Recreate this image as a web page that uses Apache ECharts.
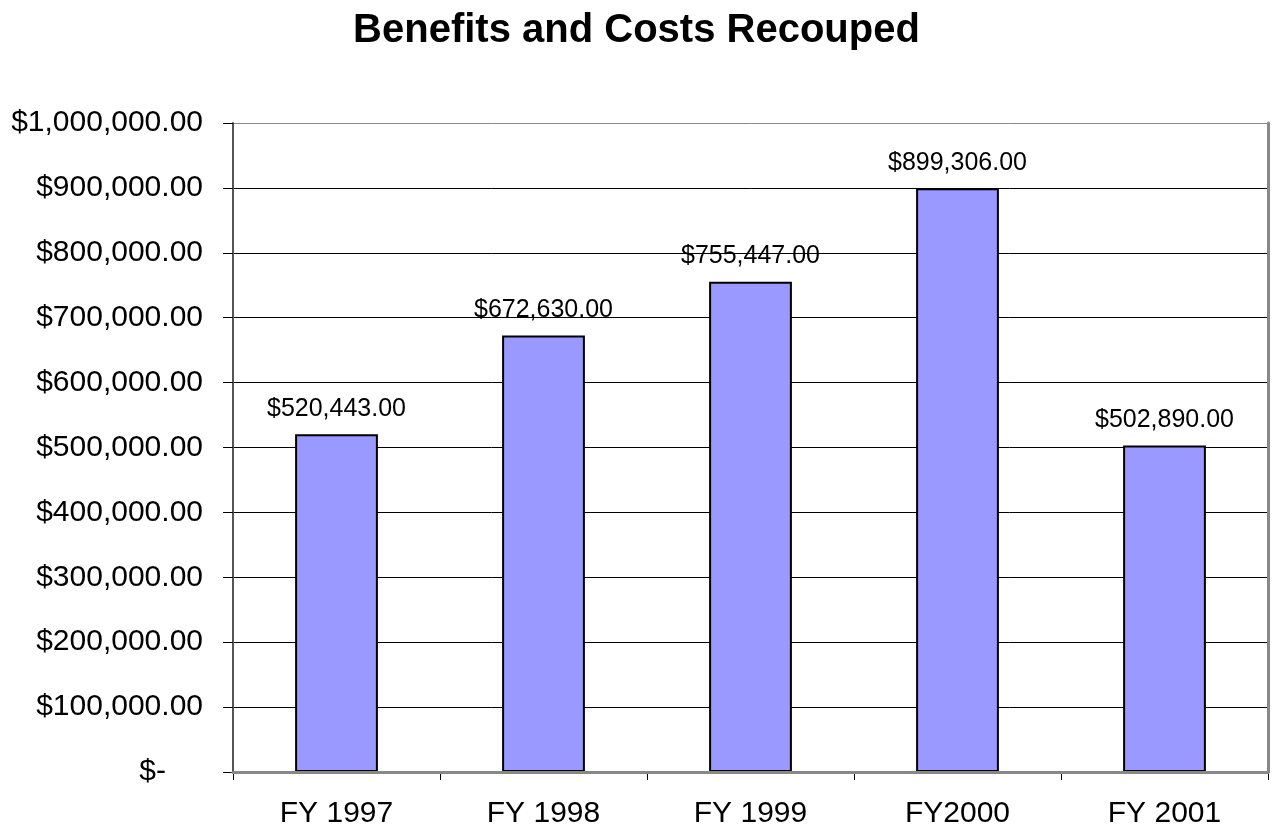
<!DOCTYPE html>
<html><head><meta charset="utf-8">
<script src="https://cdn.jsdelivr.net/npm/echarts@6/dist/echarts.min.js"></script>
<style>html,body{margin:0;padding:0;background:#fff}#c{width:1273px;height:830px}</style>
</head><body><div id="c"></div>
<script>
const categories = ['FY 1997', 'FY 1998', 'FY 1999', 'FY2000', 'FY 2001'];
const values = [520443, 672630, 755447, 899306, 502890];
const title = 'Benefits and Costs Recouped';

function money(v) {
  if (v === 0) return '$-';
  return '$' + v.toLocaleString('en-US', {minimumFractionDigits: 2, maximumFractionDigits: 2});
}
function axisMoney(v) {
  if (v === 0) return '{z|$-}';
  return money(v);
}
const F = 'Liberation Sans, Arial, sans-serif';
const gridColors = ['#000','#000','#000','#000','#000','#000','#000','#000','#000','#000','#888'];
const chart = echarts.init(document.getElementById('c'));
chart.setOption({
  animation: false,
  title: {text: title, left: 'center', top: 6, textStyle: {fontFamily: F, fontSize: 40, fontWeight: 'bold', color: '#000'}},
  grid: {left: 233, right: 5, top: 123, bottom: 58, containLabel: false},
  xAxis: [{
    type: 'category', data: categories,
    axisLine: {lineStyle: {color: '#000', width: 1}},
    axisTick: {show: true, length: 8, lineStyle: {color: '#000'}},
    axisLabel: {fontFamily: F, fontSize: 30, color: '#000', margin: 27}
  }, {
    type: 'category', data: categories, position: 'top', z: 10,
    axisLine: {lineStyle: {color: '#888', width: 3}},
    axisTick: {show: false}, axisLabel: {show: false}
  }],
  yAxis: [{
    type: 'value', min: 0, max: 1000000, interval: 100000,
    axisLine: {show: true, lineStyle: {color: '#555', width: 2}},
    axisTick: {show: true, length: 10, lineStyle: {color: '#000'}},
    splitLine: {show: true, lineStyle: {color: gridColors, width: 1}},
    axisLabel: {fontFamily: F, fontSize: 30, color: '#000', margin: 30, formatter: axisMoney,
      rich: {z: {fontFamily: F, fontSize: 30, color: '#000', padding: [0, 37, 0, 0]}}}
  }, {
    type: 'value', min: 0, max: 1000000, interval: 100000, position: 'right', z: 10,
    axisLine: {show: true, lineStyle: {color: '#888', width: 3}},
    axisTick: {show: false}, axisLabel: {show: false}, splitLine: {show: false}
  }],
  series: [{
    type: 'bar', data: values, barWidth: '40%',
    itemStyle: {color: '#9999FF', borderColor: '#000', borderWidth: 2},
    label: {show: true, position: 'top', distance: 13, fontFamily: F, fontSize: 25, color: '#000', formatter: p => money(p.value)}
  }]
});
</script></body></html>
